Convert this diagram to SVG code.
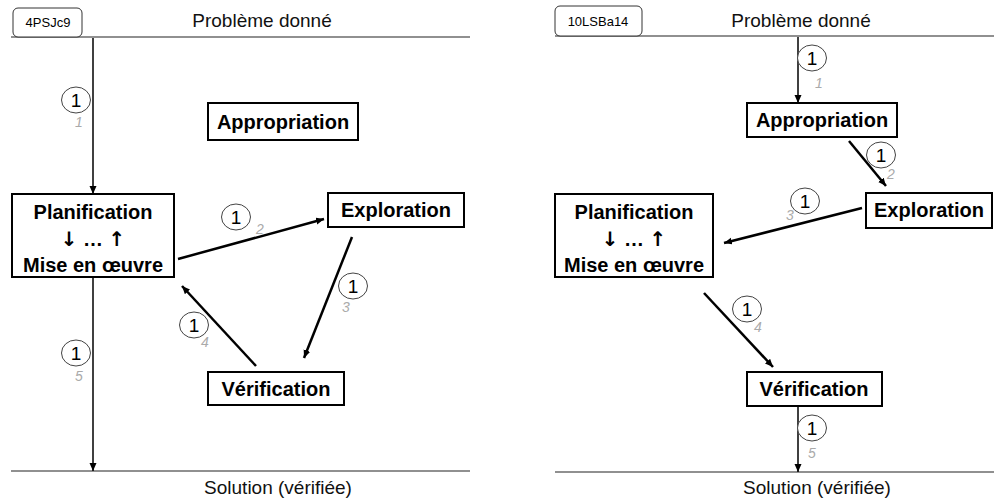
<svg xmlns="http://www.w3.org/2000/svg" width="994" height="500" viewBox="0 0 994 500">
<defs>
<marker id="ah" markerUnits="userSpaceOnUse" markerWidth="9" markerHeight="8" refX="8" refY="3.5" orient="auto">
<path d="M0,0 L8,3.5 L0,7 z" fill="#000"/>
</marker>
<style>
text{font-family:"Liberation Sans",Arial,sans-serif;}
.box{fill:#fff;stroke:#000;stroke-width:2;}
.bt{font-size:20px;font-weight:bold;text-anchor:middle;fill:#000;}
.ar{font-family:"DejaVu Sans",sans-serif;font-weight:bold;fill:#000;}
.tag{fill:#fff;stroke:#333;stroke-width:1;}
.tt{font-size:13px;text-anchor:middle;fill:#000;}
.hd{font-size:19px;text-anchor:middle;fill:#111;}
.rule{stroke:#222;stroke-width:1.2;fill:none;}
.thin{stroke:#000;stroke-width:1.5;fill:none;marker-end:url(#ah);}
.thick{stroke:#000;stroke-width:2.5;fill:none;marker-end:url(#ah);}
.ci{fill:#fff;stroke:#444;stroke-width:1;}
.cn{font-size:19px;text-anchor:middle;fill:#000;}
.gn{font-size:14px;font-style:italic;text-anchor:middle;fill:#aaa;}
</style>
</defs>
<rect width="994" height="500" fill="#fff"/>

<g id="left-frame">
<line class="rule" x1="11" y1="37" x2="470" y2="37"/>
<line class="rule" x1="11" y1="471" x2="470" y2="471"/>
<rect class="tag" x="13" y="8" width="69" height="29" rx="5"/>
<text class="tt" x="48" y="27">4PSJc9</text>
<text class="hd" x="262" y="27">Problème donné</text>
<text class="hd" x="278" y="494">Solution (vérifiée)</text>
</g>

<g id="right-frame">
<line class="rule" x1="555" y1="36" x2="994" y2="36"/>
<line class="rule" x1="555" y1="472" x2="994" y2="472"/>
<rect class="tag" x="555" y="6" width="87" height="30" rx="5"/>
<text class="tt" x="598" y="26">10LSBa14</text>
<text class="hd" x="801" y="27">Problème donné</text>
<text class="hd" x="817" y="494">Solution (vérifiée)</text>
</g>

<g id="connectors">
<line class="thin" x1="93" y1="38" x2="93" y2="194"/>
<line class="thick" x1="178" y1="259" x2="324" y2="219"/>
<line class="thick" x1="352" y1="237" x2="304" y2="358"/>
<line class="thick" x1="256" y1="366" x2="182" y2="286"/>
<line class="thin" x1="93" y1="277" x2="93" y2="471"/>
<line class="thin" x1="798" y1="37" x2="798" y2="103"/>
<line class="thick" x1="849" y1="141" x2="886" y2="186"/>
<line class="thick" x1="862" y1="208" x2="724" y2="243"/>
<line class="thick" x1="704" y1="293" x2="773" y2="367"/>
<line class="thin" x1="798" y1="406" x2="798" y2="472"/>
</g>

<g id="L-appropriation">
<rect class="box" x="208" y="103" width="150" height="37"/>
<text class="bt" x="283" y="129">Appropriation</text>
</g>
<g id="L-planification">
<rect class="box" x="12" y="194" width="162" height="83"/>
<text class="bt" x="93" y="219">Planification</text>
<text class="bt" x="93" y="246"><tspan class="ar">↓︎</tspan> … <tspan class="ar">↑︎</tspan></text>
<text class="bt" x="93" y="272">Mise en œuvre</text>
</g>
<g id="L-exploration">
<rect class="box" x="328" y="193" width="136" height="34"/>
<text class="bt" x="396" y="217">Exploration</text>
</g>
<g id="L-verification">
<rect class="box" x="208" y="372" width="136" height="33"/>
<text class="bt" x="276" y="396">Vérification</text>
</g>

<g id="R-appropriation">
<rect class="box" x="747" y="103" width="150" height="34"/>
<text class="bt" x="822" y="127">Appropriation</text>
</g>
<g id="R-planification">
<rect class="box" x="555" y="194" width="158" height="83"/>
<text class="bt" x="634" y="219">Planification</text>
<text class="bt" x="634" y="246"><tspan class="ar">↓︎</tspan> … <tspan class="ar">↑︎</tspan></text>
<text class="bt" x="634" y="272">Mise en œuvre</text>
</g>
<g id="R-exploration">
<rect class="box" x="866" y="193" width="126" height="35"/>
<text class="bt" x="929" y="217">Exploration</text>
</g>
<g id="R-verification">
<rect class="box" x="747" y="372" width="135" height="34"/>
<text class="bt" x="814" y="396">Vérification</text>
</g>

<g id="labels">
<ellipse class="ci" cx="76" cy="100" rx="14.5" ry="13"/><text class="cn" x="76" y="107">1</text><text class="gn" x="79" y="127">1</text>
<ellipse class="ci" cx="236" cy="217" rx="14.5" ry="13"/><text class="cn" x="236" y="224">1</text><text class="gn" x="260" y="234">2</text>
<ellipse class="ci" cx="353" cy="286" rx="14.5" ry="13"/><text class="cn" x="353" y="293">1</text><text class="gn" x="346" y="312">3</text>
<ellipse class="ci" cx="194" cy="325" rx="14.5" ry="13"/><text class="cn" x="194" y="332">1</text><text class="gn" x="205" y="347">4</text>
<ellipse class="ci" cx="76" cy="353" rx="14.5" ry="13"/><text class="cn" x="76" y="360">1</text><text class="gn" x="79" y="381">5</text>
<ellipse class="ci" cx="812" cy="58" rx="14.5" ry="13"/><text class="cn" x="812" y="65">1</text><text class="gn" x="819" y="88">1</text>
<ellipse class="ci" cx="881" cy="155" rx="14.5" ry="13"/><text class="cn" x="881" y="162">1</text><text class="gn" x="891" y="179">2</text>
<ellipse class="ci" cx="805" cy="201" rx="14.5" ry="13"/><text class="cn" x="805" y="208">1</text><text class="gn" x="790" y="220">3</text>
<ellipse class="ci" cx="747" cy="309" rx="14.5" ry="13"/><text class="cn" x="747" y="316">1</text><text class="gn" x="758" y="332">4</text>
<ellipse class="ci" cx="812" cy="428" rx="14.5" ry="13"/><text class="cn" x="812" y="435">1</text><text class="gn" x="812" y="458">5</text>
</g>
</svg>
